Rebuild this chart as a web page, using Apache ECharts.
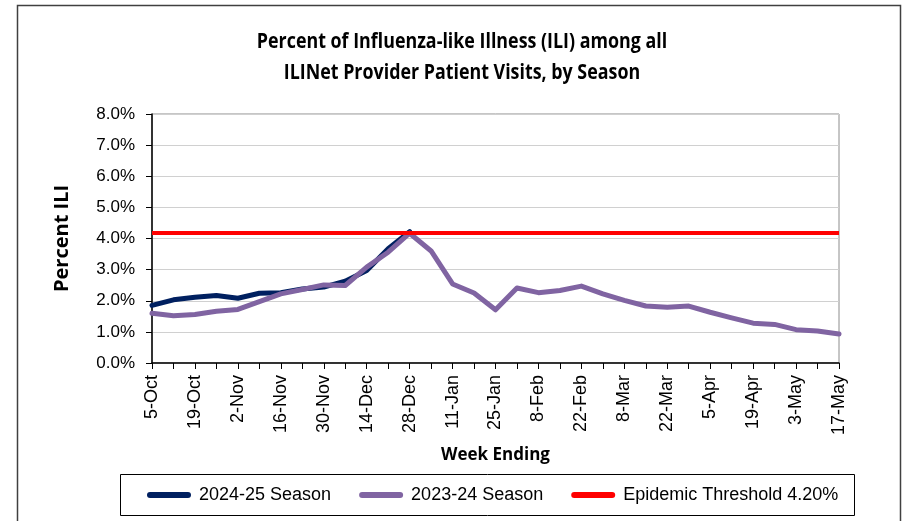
<!DOCTYPE html>
<html>
<head>
<meta charset="utf-8">
<script src="https://cdn.jsdelivr.net/npm/echarts@6/dist/echarts.min.js"></script>
<style>
html,body{margin:0;padding:0;background:#fff;}
#chart{width:905px;height:521px;}
</style>
</head>
<body>
<div id="chart"></div>
<script>
// ---- data ----
const weeks = ['5-Oct','12-Oct','19-Oct','26-Oct','2-Nov','9-Nov','16-Nov','23-Nov','30-Nov',
  '7-Dec','14-Dec','21-Dec','28-Dec','4-Jan','11-Jan','18-Jan','25-Jan','1-Feb','8-Feb',
  '15-Feb','22-Feb','1-Mar','8-Mar','15-Mar','22-Mar','29-Mar','5-Apr','12-Apr','19-Apr',
  '26-Apr','3-May','10-May','17-May'];
const season2425 = [1.85, 2.03, 2.11, 2.17, 2.08, 2.24, 2.26, 2.38, 2.44, 2.63, 2.97, 3.67, 4.22];
const season2324 = [1.60, 1.52, 1.56, 1.66, 1.72, 1.97, 2.22, 2.36, 2.51, 2.49, 3.08, 3.56, 4.17,
  3.60, 2.54, 2.25, 1.71, 2.41, 2.26, 2.33, 2.47, 2.22, 2.01, 1.83, 1.79, 1.83, 1.63,
  1.45, 1.28, 1.24, 1.07, 1.03, 0.93];
const THRESHOLD = 4.2;
const seriesNames = ['2024-25 Season', '2023-24 Season', 'Epidemic Threshold 4.20%'];
const titleLines = ['Percent of Influenza-like Illness (ILI) among all', 'ILINet Provider Patient Visits, by Season'];

const TFONT = '"Open Sans", "Liberation Sans", sans-serif';
const AFONT = '"Liberation Sans", Arial, sans-serif';
const capsule = 'path://M3,0 H41 A3,3 0 0 1 41,6 H3 A3,3 0 0 1 3,0 Z';

const chart = echarts.init(document.getElementById('chart'), null, {renderer: 'canvas'});
chart.setOption({
  animation: false,
  backgroundColor: '#fff',
  graphic: [
    {type: 'rect', shape: {x: 17.5, y: 5.5, width: 883, height: 540}, style: {fill: 'none', stroke: '#404040', lineWidth: 1.5}, silent: true},
    {type: 'rect', shape: {x: 120.5, y: 474.5, width: 734, height: 41}, style: {fill: 'none', stroke: '#000', lineWidth: 1}, silent: true},
    {type: 'text', x: 462, y: 42, scaleX: 0.85, style: {text: titleLines[0], font: 'bold 21px ' + TFONT, fill: '#000', align: 'center', verticalAlign: 'middle'}, silent: true},
    {type: 'text', x: 462, y: 73, scaleX: 0.85, style: {text: titleLines[1], font: 'bold 21px ' + TFONT, fill: '#000', align: 'center', verticalAlign: 'middle'}, silent: true}
  ],
  grid: {left: 152, top: 114, width: 687, height: 249, show: true, borderColor: '#8c8c8c', borderWidth: 1, containLabel: false},
  legend: {
    left: 147, top: 486, padding: 0,
    itemWidth: 44, itemHeight: 6, itemGap: 28,
    textStyle: {fontFamily: AFONT, fontSize: 18, color: '#000', padding: [0, 0, 0, 3]},
    data: [
      {name: seriesNames[0], icon: capsule, itemStyle: {color: '#002060'}},
      {name: seriesNames[1], icon: capsule, itemStyle: {color: '#8064a2'}},
      {name: seriesNames[2], icon: capsule, itemStyle: {color: '#ff0000'}}
    ]
  },
  xAxis: {
    type: 'category',
    data: weeks,
    boundaryGap: false,
    name: 'Week Ending',
    nameLocation: 'middle',
    nameGap: 84,
    nameTextStyle: {fontFamily: TFONT, fontWeight: 'bold', fontSize: 17, color: '#000'},
    axisLine: {lineStyle: {color: '#000', width: 1.5}},
    axisTick: {show: true, interval: 0, length: 6, lineStyle: {color: '#000'}},
    axisLabel: {interval: 1, rotate: 90, fontFamily: AFONT, fontSize: 18, color: '#000', margin: 12},
    splitLine: {show: false}
  },
  yAxis: {
    type: 'value',
    min: 0, max: 8, interval: 1,
    name: 'Percent ILI',
    nameLocation: 'middle',
    nameRotate: 90,
    nameGap: 80,
    nameTextStyle: {fontFamily: TFONT, fontWeight: 'bold', fontSize: 20, color: '#000'},
    axisLine: {show: true, lineStyle: {color: '#000', width: 1.5}},
    axisTick: {show: true, length: 6, lineStyle: {color: '#000'}},
    axisLabel: {formatter: v => v.toFixed(1) + '%', fontFamily: AFONT, fontSize: 17, color: '#000', margin: 17},
    splitLine: {lineStyle: {color: '#d0d0d0', width: 1.2}}
  },
  series: [
    {
      name: seriesNames[0], type: 'line', data: season2425, z: 3,
      symbol: 'none', color: '#002060',
      lineStyle: {color: '#002060', width: 5, cap: 'round', join: 'round'},
      emphasis: {disabled: true}
    },
    {
      name: seriesNames[1], type: 'line', data: season2324, z: 4,
      symbol: 'none', color: '#8064a2',
      lineStyle: {color: '#8064a2', width: 5, cap: 'round', join: 'round'},
      emphasis: {disabled: true}
    },
    {
      name: seriesNames[2], type: 'line', data: [], z: 2,
      symbol: 'none', color: '#ff0000',
      lineStyle: {color: '#ff0000', width: 4},
      markLine: {
        silent: true, symbol: 'none', animation: false,
        label: {show: false},
        lineStyle: {color: '#ff0000', width: 4, type: 'solid'},
        emphasis: {disabled: true},
        data: [{yAxis: THRESHOLD}]
      }
    }
  ]
});
</script>
</body>
</html>
